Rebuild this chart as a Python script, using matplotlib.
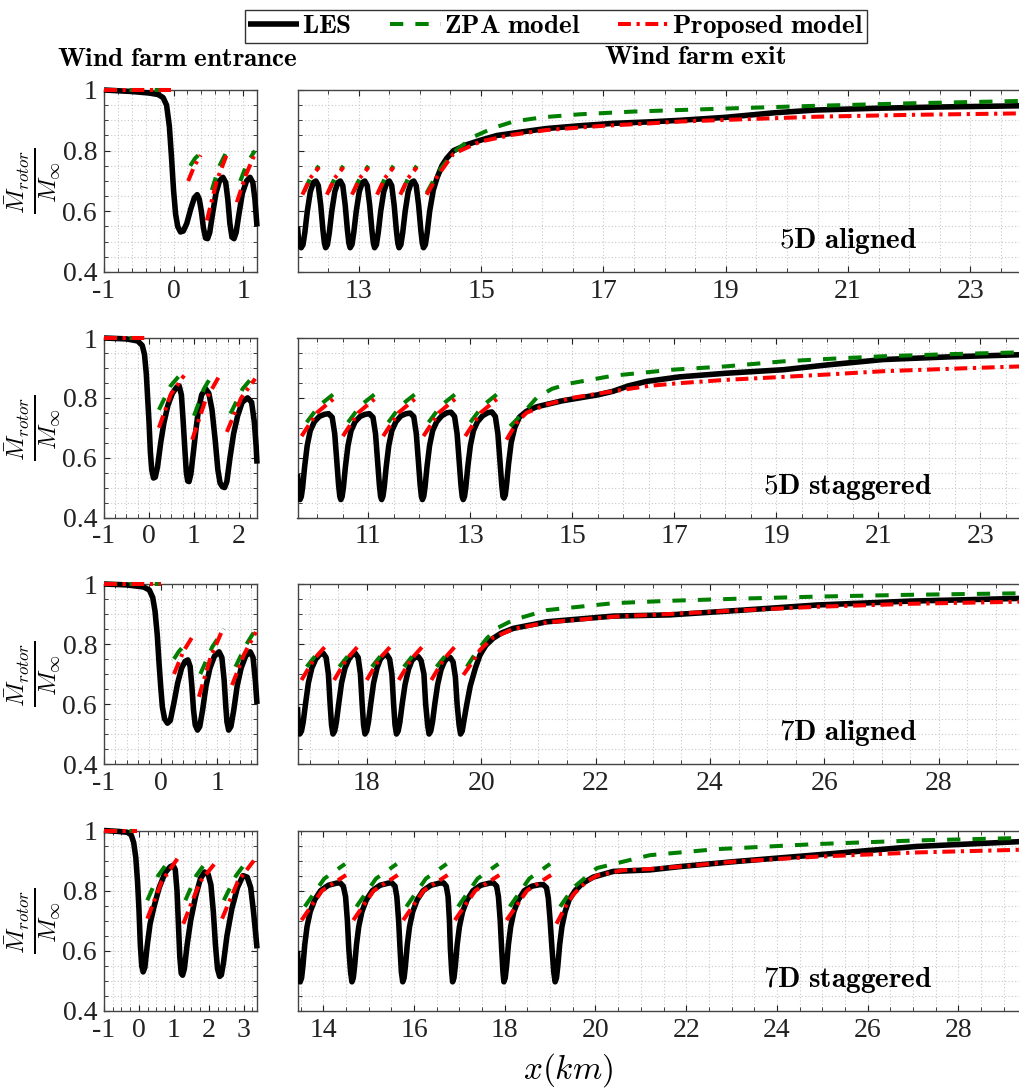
import matplotlib
matplotlib.use('Agg')
import matplotlib.pyplot as plt
from matplotlib.ticker import MultipleLocator
from matplotlib.lines import Line2D

plt.rcParams['mathtext.fontset'] = 'cm'
plt.rcParams['font.family'] = ['Liberation Serif', 'DejaVu Serif']
plt.rcParams['axes.unicode_minus'] = False

# ---------------- Data: 5D aligned ----------------
les_5a_in_x = [-1.0, -0.6, -0.35, -0.22, -0.15, -0.10, -0.06, -0.03, 0.0, 0.03, 0.06, 0.10, 0.14, 0.19, 0.25,
               0.30, 0.34, 0.37, 0.40, 0.43, 0.46, 0.49, 0.52, 0.56, 0.61, 0.66, 0.71, 0.75, 0.78, 0.81,
               0.84, 0.87, 0.90, 0.94, 0.99, 1.05, 1.10, 1.14, 1.17, 1.20]
les_5a_in_y = [1.0, 0.995, 0.99, 0.985, 0.975, 0.95, 0.88, 0.78, 0.67, 0.59, 0.55, 0.532, 0.535, 0.56, 0.61,
               0.645, 0.655, 0.64, 0.60, 0.545, 0.512, 0.51, 0.53, 0.59, 0.66, 0.70, 0.712, 0.695, 0.64, 0.56,
               0.515, 0.51, 0.53, 0.59, 0.66, 0.70, 0.712, 0.695, 0.64, 0.55]
zpa_5a_in = [[(-1.0, 1.0), (-0.04, 1.0)],
             [(0.24, 0.75), (0.31, 0.775), (0.38, 0.79)],
             [(0.55, 0.67), (0.66, 0.75), (0.77, 0.80)],
             [(0.96, 0.70), (1.06, 0.76), (1.17, 0.80)]]
pro_5a_in = [[(-1.0, 1.0), (-0.04, 1.0)],
             [(0.21, 0.70), (0.30, 0.75), (0.39, 0.785)],
             [(0.48, 0.57), (0.62, 0.70), (0.77, 0.79)],
             [(0.91, 0.63), (1.04, 0.72), (1.17, 0.79)]]

les_5a_out_x = [12.00, 12.02, 12.04, 12.06, 12.09, 12.12, 12.16, 12.21, 12.26, 12.30, 12.34, 12.38, 12.415, 12.44,
                12.46, 12.49, 12.52, 12.56, 12.61, 12.66, 12.70, 12.74, 12.78, 12.815, 12.84,
                12.86, 12.89, 12.92, 12.96, 13.01, 13.06, 13.10, 13.14, 13.18, 13.215, 13.24,
                13.26, 13.29, 13.32, 13.36, 13.41, 13.46, 13.50, 13.54, 13.58, 13.615, 13.64,
                13.66, 13.69, 13.72, 13.76, 13.81, 13.86, 13.90, 13.94, 13.98, 14.015, 14.04,
                14.06, 14.09, 14.12, 14.16, 14.22, 14.28, 14.36, 14.44, 14.55, 14.77, 15.0, 15.26, 15.6,
                16.07, 16.6, 17.16, 17.76, 18.25, 19.0, 19.8, 20.48, 21.5, 22.5, 23.85]
les_5a_out_y = [0.55, 0.50, 0.485, 0.48, 0.49, 0.53, 0.60, 0.665, 0.695, 0.70, 0.685, 0.62, 0.54, 0.495,
                0.48, 0.49, 0.53, 0.60, 0.665, 0.695, 0.70, 0.685, 0.62, 0.54, 0.495,
                0.48, 0.49, 0.53, 0.60, 0.665, 0.695, 0.70, 0.685, 0.62, 0.54, 0.495,
                0.48, 0.49, 0.53, 0.60, 0.665, 0.695, 0.70, 0.685, 0.62, 0.54, 0.495,
                0.48, 0.49, 0.53, 0.60, 0.665, 0.695, 0.70, 0.685, 0.62, 0.54, 0.495,
                0.48, 0.49, 0.53, 0.60, 0.67, 0.71, 0.75, 0.775, 0.80, 0.82, 0.835, 0.85, 0.86,
                0.873, 0.882, 0.89, 0.895, 0.90, 0.91, 0.925, 0.934, 0.940, 0.944, 0.948]
zpa_5a_out = [[(12.11, 0.665), (12.22, 0.715), (12.35, 0.75)],
              [(12.51, 0.665), (12.62, 0.715), (12.75, 0.75)],
              [(12.92, 0.665), (13.03, 0.715), (13.16, 0.75)],
              [(13.33, 0.665), (13.44, 0.715), (13.57, 0.75)],
              [(13.71, 0.665), (13.82, 0.715), (13.95, 0.75)],
              [(14.11, 0.66), (14.3, 0.73), (14.55, 0.795), (14.88, 0.846), (15.2, 0.875), (15.53, 0.896),
               (16.0, 0.91), (16.62, 0.92), (17.5, 0.929), (18.25, 0.934), (19.5, 0.942), (20.5, 0.948),
               (22.0, 0.956), (23.85, 0.964)]]
pro_5a_out = [[(12.08, 0.655), (12.21, 0.71), (12.35, 0.745)],
              [(12.48, 0.655), (12.61, 0.71), (12.75, 0.745)],
              [(12.89, 0.655), (13.02, 0.71), (13.16, 0.745)],
              [(13.30, 0.655), (13.43, 0.71), (13.57, 0.745)],
              [(13.68, 0.655), (13.81, 0.71), (13.95, 0.745)],
              [(14.11, 0.655), (14.3, 0.72), (14.55, 0.79), (14.99, 0.83), (15.5, 0.852), (16.07, 0.868),
               (17.0, 0.882), (17.76, 0.89), (18.25, 0.896), (19.5, 0.905), (20.5, 0.912), (22.0, 0.918),
               (23.85, 0.923)]]

# ---------------- Data: 5D staggered ----------------
les_5s_in_x = [-1.0, -0.5, -0.25, -0.15, -0.10, -0.06, -0.03, 0.0, 0.03, 0.06, 0.10, 0.14, 0.19, 0.26, 0.33,
               0.42, 0.52, 0.61, 0.67, 0.72, 0.76, 0.80, 0.83, 0.86, 0.89, 0.93, 0.98, 1.04, 1.10, 1.17,
               1.26, 1.33, 1.40, 1.47, 1.53, 1.58, 1.63, 1.68, 1.73, 1.80, 1.88, 1.97, 2.07, 2.19, 2.28,
               2.34, 2.38, 2.40]
les_5s_in_y = [1.0, 0.997, 0.99, 0.975, 0.945, 0.88, 0.80, 0.72, 0.62, 0.56, 0.532, 0.535, 0.57, 0.65, 0.715,
               0.775, 0.815, 0.835, 0.84, 0.81, 0.72, 0.62, 0.55, 0.522, 0.52, 0.545, 0.61, 0.69, 0.76, 0.81,
               0.83, 0.815, 0.76, 0.66, 0.56, 0.515, 0.503, 0.50, 0.52, 0.60, 0.68, 0.74, 0.785, 0.80, 0.785,
               0.72, 0.64, 0.58]
zpa_5s_in = [[(-1.0, 1.0), (0.0, 1.0)],
             [(0.22, 0.76), (0.48, 0.84), (0.74, 0.886)],
             [(1.0, 0.74), (1.22, 0.83), (1.44, 0.886)],
             [(1.81, 0.747), (2.08, 0.83), (2.36, 0.88)]]
pro_5s_in = [[(-1.0, 1.0), (0.0, 1.0)],
             [(0.22, 0.70), (0.48, 0.81), (0.78, 0.875)],
             [(0.96, 0.66), (1.25, 0.79), (1.55, 0.87)],
             [(1.73, 0.686), (2.05, 0.80), (2.36, 0.864)]]

les_5s_out_x = [9.61, 9.63, 9.645,
                9.66, 9.685, 9.71, 9.75, 9.80, 9.86, 9.94, 10.04, 10.14, 10.22, 10.29, 10.34, 10.38, 10.415, 10.44,
                10.46, 10.485, 10.51, 10.55, 10.60, 10.66, 10.74, 10.84, 10.94, 11.02, 11.09, 11.14, 11.18, 11.215, 11.24,
                11.26, 11.285, 11.31, 11.35, 11.40, 11.46, 11.54, 11.64, 11.74, 11.82, 11.89, 11.94, 11.98, 12.015, 12.04,
                12.06, 12.085, 12.11, 12.15, 12.20, 12.26, 12.34, 12.44, 12.54, 12.62, 12.69, 12.74, 12.78, 12.815, 12.84,
                12.86, 12.885, 12.91, 12.95, 13.00, 13.06, 13.14, 13.24, 13.34, 13.42, 13.49, 13.54, 13.58, 13.615, 13.64,
                13.66, 13.685, 13.71, 13.75, 13.80, 13.87, 13.96, 14.1, 14.3, 14.5, 14.8, 15.15, 15.5, 15.8, 16.1,
                16.46, 17.1, 18.0, 19.14, 20.0, 21.1, 22.4, 23.78]
les_5s_out_y = [0.545, 0.49, 0.47,
                0.46, 0.47, 0.50, 0.57, 0.64, 0.69, 0.72, 0.738, 0.745, 0.747, 0.735, 0.68, 0.59, 0.51, 0.47,
                0.46, 0.47, 0.50, 0.57, 0.64, 0.69, 0.72, 0.738, 0.745, 0.747, 0.735, 0.68, 0.59, 0.51, 0.47,
                0.46, 0.47, 0.50, 0.57, 0.64, 0.69, 0.72, 0.74, 0.747, 0.749, 0.737, 0.68, 0.59, 0.51, 0.47,
                0.46, 0.47, 0.50, 0.57, 0.64, 0.69, 0.72, 0.74, 0.75, 0.752, 0.738, 0.68, 0.59, 0.51, 0.47,
                0.46, 0.47, 0.50, 0.57, 0.64, 0.69, 0.72, 0.74, 0.75, 0.753, 0.738, 0.68, 0.59, 0.51, 0.47,
                0.465, 0.475, 0.51, 0.58, 0.65, 0.70, 0.735, 0.755, 0.77, 0.778, 0.79, 0.80, 0.81, 0.822, 0.84,
                0.855, 0.87, 0.882, 0.894, 0.91, 0.928, 0.937, 0.944]
zpa_5s_out = [[(9.79, 0.718), (10.04, 0.775), (10.35, 0.817)],
              [(10.60, 0.718), (10.85, 0.775), (11.16, 0.817)],
              [(11.39, 0.718), (11.64, 0.775), (11.95, 0.817)],
              [(12.18, 0.718), (12.43, 0.775), (12.74, 0.817)],
              [(13.00, 0.718), (13.25, 0.775), (13.56, 0.817)],
              [(13.78, 0.705), (14.04, 0.75), (14.3, 0.80), (14.6, 0.83), (14.95, 0.848), (15.8, 0.874),
               (16.96, 0.894), (18.0, 0.905), (19.14, 0.922), (20.0, 0.93), (21.1, 0.939), (22.4, 0.946),
               (23.78, 0.952)]]
pro_5s_out = [[(9.69, 0.672), (9.99, 0.75), (10.34, 0.80)],
              [(10.50, 0.672), (10.80, 0.75), (11.15, 0.80)],
              [(11.29, 0.672), (11.59, 0.75), (11.94, 0.80)],
              [(12.08, 0.672), (12.38, 0.75), (12.73, 0.80)],
              [(12.90, 0.672), (13.20, 0.75), (13.55, 0.80)],
              [(13.71, 0.66), (13.9, 0.715), (14.1, 0.75), (14.5, 0.778), (15.0, 0.80), (15.8, 0.822),
               (16.5, 0.84), (17.1, 0.849), (18.0, 0.86), (19.14, 0.87), (20.0, 0.878), (21.1, 0.889),
               (22.4, 0.897), (23.78, 0.905)]]

# ---------------- Data: 7D aligned ----------------
les_7a_in_x = [-1.0, -0.6, -0.3, -0.2, -0.14, -0.10, -0.06, -0.03, 0.0, 0.03, 0.07, 0.12, 0.17, 0.23, 0.30,
               0.37, 0.43, 0.48, 0.52, 0.55, 0.58, 0.61, 0.65, 0.69, 0.74, 0.80, 0.87, 0.95, 1.03, 1.08,
               1.12, 1.15, 1.17, 1.20, 1.24, 1.29, 1.35, 1.42, 1.50, 1.58, 1.63, 1.67, 1.70]
les_7a_in_y = [1.0, 0.997, 0.99, 0.98, 0.955, 0.91, 0.83, 0.74, 0.66, 0.59, 0.55, 0.536, 0.545, 0.60, 0.67,
               0.72, 0.742, 0.747, 0.725, 0.66, 0.58, 0.53, 0.513, 0.525, 0.58, 0.66, 0.72, 0.76, 0.774, 0.755,
               0.68, 0.59, 0.54, 0.513, 0.525, 0.58, 0.66, 0.72, 0.76, 0.774, 0.755, 0.68, 0.60]
zpa_7a_in = [[(-1.0, 1.0), (0.0, 1.0)],
             [(0.235, 0.75), (0.32, 0.775), (0.41, 0.794)],
             [(0.70, 0.70), (0.91, 0.79), (1.12, 0.85)],
             [(1.32, 0.724), (1.50, 0.795), (1.68, 0.85)]]
pro_7a_in = [[(-1.0, 1.0), (0.0, 1.0)],
             [(0.235, 0.70), (0.40, 0.775), (0.56, 0.824)],
             [(0.675, 0.624), (0.88, 0.755), (1.09, 0.847)],
             [(1.26, 0.663), (1.47, 0.765), (1.68, 0.84)]]

les_7a_out_x = [16.79, 16.80, 16.815,
                16.83, 16.86, 16.89, 16.93, 16.98, 17.04, 17.11, 17.18, 17.24, 17.29, 17.33, 17.36, 17.385,
                17.41, 17.44, 17.47, 17.51, 17.56, 17.62, 17.69, 17.75, 17.80, 17.85, 17.89, 17.92, 17.945,
                17.97, 18.00, 18.03, 18.07, 18.12, 18.18, 18.24, 18.30, 18.35, 18.40, 18.44, 18.47, 18.495,
                18.52, 18.55, 18.58, 18.62, 18.67, 18.73, 18.79, 18.85, 18.90, 18.95, 19.00, 19.03, 19.065,
                19.09, 19.12, 19.15, 19.19, 19.24, 19.30, 19.36, 19.41, 19.46, 19.51, 19.55, 19.58, 19.615,
                19.64, 19.67, 19.70, 19.75, 19.81, 19.90, 19.98, 20.08, 20.21, 20.35, 20.56, 21.15, 22.31,
                23.29, 24.5, 25.87, 27.5, 29.42]
les_7a_out_y = [0.59, 0.545, 0.51,
                0.50, 0.51, 0.54, 0.60, 0.67, 0.72, 0.75, 0.765, 0.769, 0.755, 0.70, 0.60, 0.53,
                0.50, 0.51, 0.54, 0.60, 0.67, 0.72, 0.75, 0.765, 0.769, 0.755, 0.70, 0.60, 0.53,
                0.50, 0.51, 0.54, 0.60, 0.67, 0.72, 0.75, 0.762, 0.765, 0.75, 0.70, 0.60, 0.53,
                0.50, 0.51, 0.54, 0.60, 0.665, 0.715, 0.745, 0.756, 0.758, 0.745, 0.70, 0.60, 0.53,
                0.50, 0.51, 0.54, 0.60, 0.665, 0.715, 0.742, 0.753, 0.755, 0.74, 0.69, 0.60, 0.53,
                0.50, 0.51, 0.545, 0.60, 0.66, 0.72, 0.763, 0.795, 0.819, 0.836, 0.852, 0.874, 0.893,
                0.897, 0.912, 0.93, 0.943, 0.952]
zpa_7a_out = [[(16.95, 0.724), (17.10, 0.76), (17.24, 0.785)],
              [(17.52, 0.724), (17.67, 0.76), (17.81, 0.785)],
              [(18.09, 0.724), (18.24, 0.76), (18.38, 0.785)],
              [(18.65, 0.724), (18.80, 0.76), (18.94, 0.785)],
              [(19.22, 0.724), (19.37, 0.76), (19.51, 0.785)],
              [(19.75, 0.724), (19.92, 0.775), (20.1, 0.819), (20.3, 0.855), (20.56, 0.88), (21.15, 0.913),
               (22.31, 0.936), (23.29, 0.944), (24.5, 0.951), (25.87, 0.958), (27.5, 0.964), (29.42, 0.969)]]
pro_7a_out = [[(16.86, 0.68), (17.08, 0.75), (17.30, 0.797)],
              [(17.43, 0.68), (17.65, 0.75), (17.87, 0.797)],
              [(18.00, 0.68), (18.22, 0.75), (18.44, 0.797)],
              [(18.56, 0.68), (18.78, 0.75), (19.00, 0.797)],
              [(19.13, 0.68), (19.35, 0.75), (19.57, 0.797)],
              [(19.69, 0.697), (19.85, 0.74), (19.98, 0.78), (20.2, 0.82), (20.56, 0.85), (21.15, 0.872),
               (22.31, 0.891), (23.29, 0.90), (24.5, 0.912), (25.87, 0.924), (27.5, 0.934), (29.42, 0.941)]]

# ---------------- Data: 7D staggered ----------------
les_7s_in_x = [-1.0, -0.6, -0.33, -0.22, -0.15, -0.09, -0.04, 0.0, 0.04, 0.08, 0.12, 0.17, 0.24, 0.32, 0.43,
               0.58, 0.75, 0.90, 0.98, 1.04, 1.09, 1.13, 1.17, 1.21, 1.25, 1.30, 1.38, 1.48, 1.62, 1.76,
               1.88, 1.98, 2.06, 2.13, 2.19, 2.25, 2.31, 2.36, 2.42, 2.52, 2.66, 2.82, 2.98, 3.10, 3.20,
               3.28, 3.34, 3.38]
les_7s_in_y = [1.0, 0.997, 0.994, 0.985, 0.96, 0.91, 0.83, 0.74, 0.62, 0.55, 0.53, 0.545, 0.62, 0.69, 0.746,
               0.81, 0.86, 0.88, 0.884, 0.87, 0.80, 0.69, 0.58, 0.525, 0.519, 0.54, 0.62, 0.70, 0.78, 0.84,
               0.862, 0.855, 0.82, 0.73, 0.62, 0.54, 0.515, 0.52, 0.56, 0.65, 0.74, 0.81, 0.85, 0.845, 0.81,
               0.73, 0.66, 0.608]
zpa_7s_in = [[(-1.0, 1.0), (-0.05, 1.0)],
             [(0.24, 0.768), (0.55, 0.85), (0.86, 0.90)],
             [(1.33, 0.768), (1.64, 0.85), (1.95, 0.90)],
             [(2.43, 0.768), (2.78, 0.85), (3.14, 0.906)]]
pro_7s_in = [[(-1.0, 1.0), (-0.05, 1.0)],
             [(0.24, 0.707), (0.65, 0.83), (1.10, 0.906)],
             [(1.27, 0.69), (1.75, 0.83), (2.24, 0.90)],
             [(2.38, 0.707), (2.83, 0.83), (3.29, 0.90)]]

les_7s_out_x = [13.43, 13.45, 13.47,
                13.49, 13.52, 13.55, 13.59, 13.64, 13.71, 13.81, 13.94, 14.11, 14.29, 14.37, 14.44, 14.49, 14.53, 14.56, 14.60,
                14.63, 14.66, 14.69, 14.73, 14.78, 14.85, 14.95, 15.08, 15.25, 15.43, 15.51, 15.58, 15.62, 15.66, 15.69, 15.72,
                15.75, 15.78, 15.81, 15.85, 15.90, 15.97, 16.07, 16.20, 16.37, 16.56, 16.65, 16.71, 16.75, 16.78, 16.80, 16.83,
                16.85, 16.88, 16.91, 16.95, 17.00, 17.07, 17.17, 17.30, 17.47, 17.66, 17.75, 17.82, 17.86, 17.90, 17.93, 17.96,
                17.98, 18.01, 18.04, 18.08, 18.13, 18.20, 18.30, 18.43, 18.60, 18.77, 18.85, 18.92, 18.96, 19.00, 19.04, 19.08,
                19.11, 19.14, 19.17, 19.21, 19.26, 19.33, 19.42, 19.55, 19.72, 19.95, 20.39, 21.2, 21.86, 23.1, 24.88,
                27.08, 29.36]
les_7s_out_y = [0.60, 0.53, 0.505,
                0.497, 0.51, 0.55, 0.62, 0.68, 0.73, 0.77, 0.80, 0.818, 0.825, 0.826, 0.815, 0.78, 0.70, 0.61, 0.53,
                0.497, 0.51, 0.55, 0.62, 0.68, 0.73, 0.77, 0.80, 0.818, 0.825, 0.826, 0.815, 0.78, 0.70, 0.61, 0.53,
                0.497, 0.51, 0.55, 0.62, 0.68, 0.73, 0.77, 0.80, 0.818, 0.825, 0.826, 0.815, 0.78, 0.70, 0.61, 0.53,
                0.497, 0.51, 0.55, 0.62, 0.68, 0.73, 0.77, 0.80, 0.818, 0.825, 0.826, 0.815, 0.78, 0.70, 0.61, 0.53,
                0.497, 0.51, 0.55, 0.62, 0.68, 0.73, 0.77, 0.80, 0.815, 0.82, 0.82, 0.81, 0.775, 0.70, 0.61, 0.53,
                0.497, 0.51, 0.55, 0.62, 0.68, 0.73, 0.77, 0.80, 0.825, 0.845, 0.864, 0.869, 0.88, 0.897, 0.919,
                0.947, 0.963]
zpa_7s_out = [[(13.59, 0.747), (14.02, 0.84), (14.48, 0.889)],
              [(14.73, 0.747), (15.16, 0.84), (15.62, 0.889)],
              [(15.83, 0.747), (16.26, 0.84), (16.72, 0.889)],
              [(16.97, 0.747), (17.40, 0.84), (17.86, 0.889)],
              [(18.11, 0.747), (18.54, 0.84), (19.00, 0.889)],
              [(19.22, 0.747), (19.51, 0.81), (20.03, 0.875), (20.76, 0.902), (21.2, 0.918), (22.67, 0.938),
               (24.88, 0.955), (27.08, 0.967), (29.36, 0.975)]]
pro_7s_out = [[(13.52, 0.702), (13.97, 0.80), (14.50, 0.852)],
              [(14.66, 0.702), (15.11, 0.80), (15.64, 0.852)],
              [(15.76, 0.702), (16.21, 0.80), (16.74, 0.852)],
              [(16.90, 0.702), (17.35, 0.80), (17.88, 0.852)],
              [(18.04, 0.702), (18.49, 0.80), (19.02, 0.852)],
              [(19.14, 0.69), (19.35, 0.75), (19.51, 0.787), (19.8, 0.83), (20.03, 0.85), (20.6, 0.868),
               (21.2, 0.872), (21.86, 0.88), (23.1, 0.897), (24.88, 0.913), (27.08, 0.927), (29.36, 0.936)]]

case_labels = ['5D aligned', '5D staggered', '7D aligned', '7D staggered']
entr_xlim = [(-1, 1.2), (-1, 2.4), (-1, 1.7), (-1, 3.38)]
entr_xticks = [[-1, 0, 1], [-1, 0, 1, 2], [-1, 0, 1], [-1, 0, 1, 2, 3]]
exit_xlim = [(12.0, 23.81), (9.61, 23.78), (16.79, 29.42), (13.43, 29.36)]
exit_xticks = [[13, 15, 17, 19, 21, 23], [11, 13, 15, 17, 19, 21, 23],
               [18, 20, 22, 24, 26, 28], [14, 16, 18, 20, 22, 24, 26, 28]]
yticks = [0.4, 0.6, 0.8, 1.0]
ytick_labels = ['0.4', '0.6', '0.8', '1']
legend_labels = ['LES', 'ZPA model', 'Proposed model']

entr_data = [(les_5a_in_x, les_5a_in_y, zpa_5a_in, pro_5a_in),
             (les_5s_in_x, les_5s_in_y, zpa_5s_in, pro_5s_in),
             (les_7a_in_x, les_7a_in_y, zpa_7a_in, pro_7a_in),
             (les_7s_in_x, les_7s_in_y, zpa_7s_in, pro_7s_in)]
exit_data = [(les_5a_out_x, les_5a_out_y, zpa_5a_out, pro_5a_out),
             (les_5s_out_x, les_5s_out_y, zpa_5s_out, pro_5s_out),
             (les_7a_out_x, les_7a_out_y, zpa_7a_out, pro_7a_out),
             (les_7s_out_x, les_7s_out_y, zpa_7s_out, pro_7s_out)]

# ---------------- Styling ----------------
W, H = 1020, 1089
fig = plt.figure(figsize=(W / 100, H / 100), dpi=100)
GREEN = '#007f00'
RED = '#ff0000'
LES_KW = dict(color='black', lw=4.0, solid_capstyle='butt', solid_joinstyle='round', zorder=3)
ZPA_KW = dict(color=GREEN, lw=2.9, linestyle=(0, (3.3, 3.0)), zorder=4)
PRO_KW = dict(color=RED, lw=2.9, linestyle=(0, (3.2, 1.4, 0.8, 1.4)), zorder=5)

row_px = [(90, 272), (338, 517.5), (584, 764), (830.5, 1011)]
entr_minor_x = [0.2, 0.25, 0.2, 0.25]


def fig_rect(x0, x1, y0, y1):
    return [x0 / W, 1 - y1 / H, (x1 - x0) / W, (y1 - y0) / H]


def style(ax, xminor, show_ylabels, hide_right):
    ax.set_ylim(0.4, 1.0)
    ax.xaxis.set_minor_locator(MultipleLocator(xminor))
    ax.yaxis.set_minor_locator(MultipleLocator(0.05))
    ax.grid(which='both', color='#c8c8c8', linestyle=(0, (1, 2)), lw=0.8)
    ax.set_axisbelow(True)
    ax.tick_params(which='both', direction='in', top=True, right=not hide_right,
                   labelsize=20, colors='#222222', pad=5)
    ax.tick_params(which='major', length=4)
    ax.tick_params(which='minor', length=3)
    ax.set_yticks(yticks)
    if show_ylabels:
        ax.set_yticklabels(ytick_labels)
    else:
        ax.set_yticklabels([])
    for s in ax.spines.values():
        s.set_color('#444444')
        s.set_linewidth(1.0)
    if hide_right:
        ax.spines['right'].set_visible(False)


def draw(ax, lx, ly, zpa, pro, clip):
    ax.plot(lx, ly, clip_on=clip, **LES_KW)
    for seg in zpa:
        ax.plot([p[0] for p in seg], [p[1] for p in seg], clip_on=clip, **ZPA_KW)
    for seg in pro:
        ax.plot([p[0] for p in seg], [p[1] for p in seg], clip_on=clip, **PRO_KW)


for i in range(4):
    y0, y1 = row_px[i]
    axl = fig.add_axes(fig_rect(104, 257, y0, y1))
    lx, ly, zpa, pro = entr_data[i]
    draw(axl, lx, ly, zpa, pro, False)
    axl.set_xlim(*entr_xlim[i])
    axl.set_xticks(entr_xticks[i])
    style(axl, entr_minor_x[i], True, False)
    fig.text(33 / W, 1 - (y0 + y1) / 2 / H, r'$\frac{\bar{M}_{rotor}}{M_{\infty}}$', fontsize=25,
             rotation=90, ha='center', va='center')

    axr = fig.add_axes(fig_rect(297.5, 1020, y0, y1))
    lx, ly, zpa, pro = exit_data[i]
    draw(axr, lx, ly, zpa, pro, True)
    axr.set_xlim(*exit_xlim[i])
    axr.set_xticks(exit_xticks[i])
    style(axr, 0.5, False, True)
    axr.text(0.762, 0.17, r'$\mathbf{' + case_labels[i].replace(' ', r'\ ') + '}$',
             transform=axr.transAxes, ha='center', va='center', fontsize=21)

fig.text(57 / W, 1 - 60 / H, r'$\mathbf{Wind\ farm\ entrance}$', fontsize=19.5, ha='left', va='center')
fig.text(695 / W, 1 - 58 / H, r'$\mathbf{Wind\ farm\ exit}$', fontsize=19.5, ha='center', va='center')
fig.text(568 / W, 1 - 1070 / H, r'$x(km)$', fontsize=24, ha='center', va='center')

handles = [Line2D([], [], **{k: v for k, v in LES_KW.items() if k != 'zorder'}),
           Line2D([], [], **{k: v for k, v in ZPA_KW.items() if k != 'zorder'}),
           Line2D([], [], **{k: v for k, v in PRO_KW.items() if k != 'zorder'})]
leg_labels = [r'$\mathbf{' + s.replace(' ', r'\ ') + '}$' for s in legend_labels]
leg = fig.legend(handles, leg_labels, loc='center', bbox_to_anchor=(556 / W, 1 - 26.5 / H),
                 ncol=3, fontsize=19.5, frameon=True, fancybox=False, edgecolor='black',
                 handlelength=1.9, handletextpad=0.1, columnspacing=1.4, borderpad=0.12,
                 borderaxespad=0)
leg.get_frame().set_linewidth(1.0)

fig.savefig('out.png', dpi=100)
